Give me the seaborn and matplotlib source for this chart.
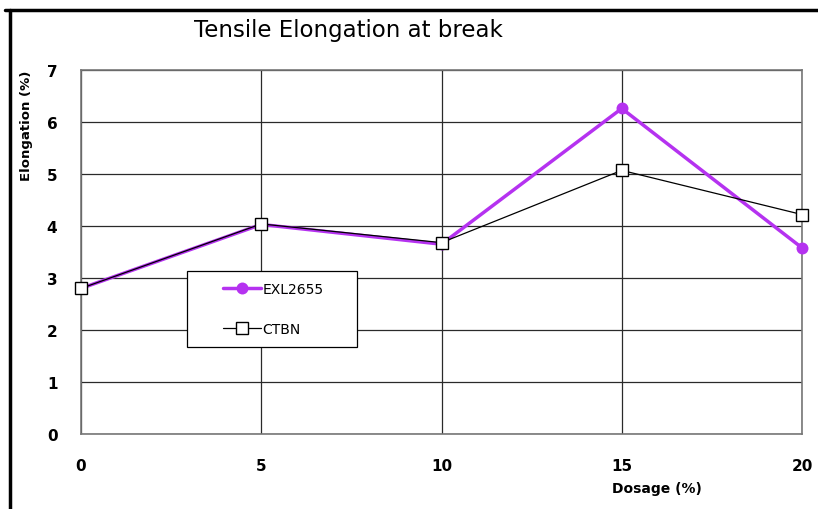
import matplotlib
matplotlib.use("Agg")
import matplotlib.pyplot as plt
import seaborn as sns
import pandas as pd
from matplotlib.lines import Line2D
from matplotlib.legend_handler import HandlerLine2D

dosage = [0, 5, 10, 15, 20]
exl2655 = [2.80, 4.03, 3.65, 6.26, 3.58]
ctbn = [2.80, 4.04, 3.68, 5.07, 4.22]
x_ticks = [0, 5, 10, 15, 20]
y_ticks = [0, 1, 2, 3, 4, 5, 6, 7]

sns.set_style("white")
plt.rcParams['font.family'] = ['DejaVu Sans']
plt.rcParams['text.color'] = 'black'
plt.rcParams['axes.labelcolor'] = 'black'
plt.rcParams['xtick.color'] = 'black'
plt.rcParams['ytick.color'] = 'black'

fig = plt.figure(figsize=(8.18, 5.10), dpi=100)
ax = fig.add_axes([81/818, 1-435/510, (802-81)/818, (435-71)/510])

df1 = pd.DataFrame({"Dosage": dosage, "Elongation": exl2655})
df2 = pd.DataFrame({"Dosage": dosage, "Elongation": ctbn})

PURPLE = "#B532F0"
sns.lineplot(data=df1, x="Dosage", y="Elongation", ax=ax, color=PURPLE,
             linewidth=2.5, marker="o", markersize=8.6, markeredgewidth=0,
             label="EXL2655", zorder=4)
sns.lineplot(data=df2, x="Dosage", y="Elongation", ax=ax, color="black",
             linewidth=0.9, marker="s", markersize=8, markerfacecolor="white",
             markeredgecolor="black", markeredgewidth=1.0,
             label="CTBN", zorder=5)
for ln in ax.lines:
    ln.set_clip_on(False)

ax.set_xlim(0, 20)
ax.set_ylim(0, 7)
ax.set_xticks(x_ticks)
ax.set_yticks(y_ticks)
ax.grid(True, color="#2a2a2a", linewidth=0.9)
ax.set_axisbelow(True)
for s in ax.spines.values():
    s.set_color("#777777")
    s.set_linewidth(1.2)
ax.tick_params(axis="both", which="both", direction="out", length=5,
               color="#555555", labelsize=11)
ax.tick_params(axis="y", pad=12)
ax.tick_params(axis="x", pad=12)
for lab in ax.get_xticklabels() + ax.get_yticklabels():
    lab.set_fontweight("bold")

ax.set_xlabel("Dosage (%)", fontsize=10, fontweight="bold")
ax.xaxis.set_label_coords((657-81)/721, -(482-435)/364)
ax.set_ylabel("Elongation (%)", fontsize=9.5, fontweight="bold")
ax.yaxis.set_label_coords(-(81-33)/721, (435-126)/364)


class ShiftHandler(HandlerLine2D):
    def create_artists(self, legend, orig_handle, xdescent, ydescent, width,
                       height, fontsize, trans):
        shift = 18.0  # points inside the handle box
        return super().create_artists(legend, orig_handle, xdescent - shift,
                                      ydescent, width - shift, height,
                                      fontsize, trans)


handles, labels = ax.get_legend_handles_labels()
leg = ax.legend(handles, labels, loc="upper left",
                bbox_to_anchor=((187-81)/721, (435-272)/364),
                frameon=True, fancybox=False, fontsize=10, borderpad=0.8,
                labelspacing=1.88, handlelength=4.5, handletextpad=0.15,
                borderaxespad=0,
                handler_map={h: ShiftHandler() for h in handles})
leg.get_frame().set_edgecolor("black")
leg.get_frame().set_linewidth(0.9)
leg.get_frame().set_alpha(1)
col = leg._legend_handle_box.get_children()[0]
col.align = "left"
col.width = 148

fig.text(348/818, 1-30/510, "Tensile Elongation at break", ha="center",
         va="center", fontsize=16.5, color="black")

fig.add_artist(Line2D([5/818, 1], [1-11/510, 1-11/510], color="black",
                      linewidth=2.5, transform=fig.transFigure))
fig.add_artist(Line2D([9.5/818, 9.5/818], [1-11/510, 0], color="black",
                      linewidth=2.5, transform=fig.transFigure))

fig.savefig("out.png", dpi=100)
